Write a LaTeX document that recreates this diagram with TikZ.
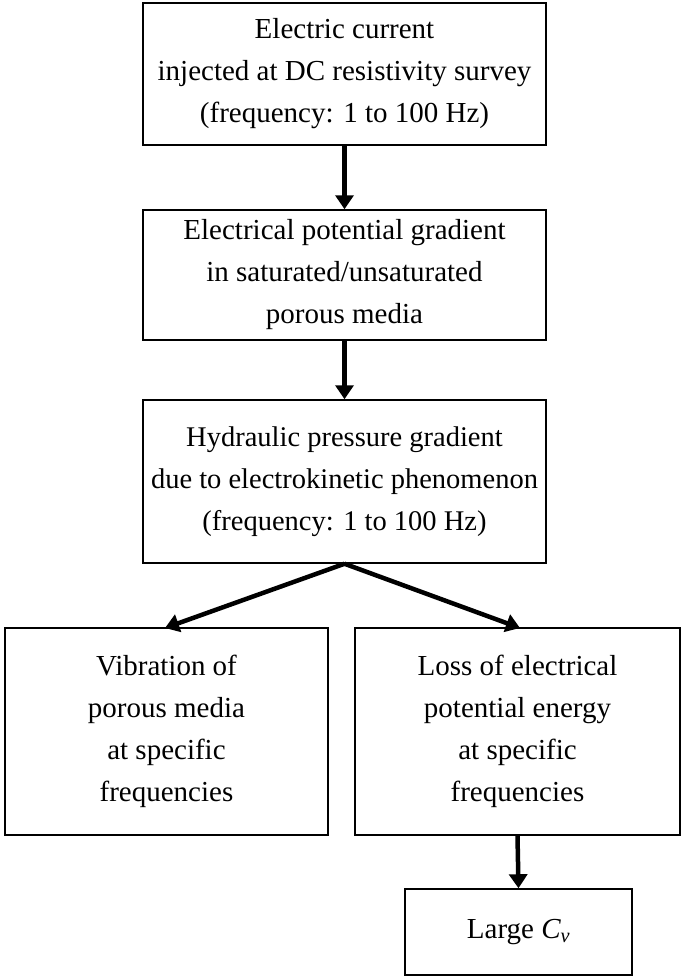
\documentclass[tikz,border=0pt]{standalone}
\usepackage{fontspec}
\setmainfont{Liberation Serif}
\usetikzlibrary{arrows.meta}
\begin{document}
\begin{tikzpicture}[x=1pt,y=-1pt,
  bx/.style={draw,line width=1.5pt,align=center,font=\fontsize{29}{42}\selectfont,inner sep=0pt},
  ar/.style={line width=4.5pt,-{Triangle[length=14pt,width=18pt]}}]
\useasboundingbox (0,0) rectangle (685,977);
\node[bx,minimum width=403pt,minimum height=142pt] (a) at (344.5,74) {Electric current\\injected at DC resistivity survey\\(frequency: 1 to 100 Hz)};
\node[bx,minimum width=403pt,minimum height=130pt] (b) at (344.5,275) {Electrical potential gradient\\in saturated/unsaturated\\porous media};
\node[bx,minimum width=403pt,minimum height=163pt,font=\fontsize{28.5}{42}\selectfont] (c) at (344.5,481.5) {Hydraulic pressure gradient\\due to electrokinetic phenomenon\\(frequency: 1 to 100 Hz)};
\node[bx,minimum width=323pt,minimum height=207pt] (d) at (166.5,731.5) {Vibration of\\porous media\\at specific\\frequencies};
\node[bx,minimum width=325pt,minimum height=207pt] (e) at (517.5,731.5) {Loss of electrical\\potential energy\\at specific\\frequencies};
\node[bx,minimum width=227pt,minimum height=86pt] (f) at (518.5,932) {Large \textit{C\textsubscript{v}}};
\draw[ar] (a.south) -- (b.north);
\draw[ar] (b.south) -- (c.north);
\coordinate (s) at (c.south);
\draw[ar] (s) -- (165,628);
\draw[ar] (s) -- (520,628);
\draw[ar] (e.south) -- (f.north);
\end{tikzpicture}
\end{document}
